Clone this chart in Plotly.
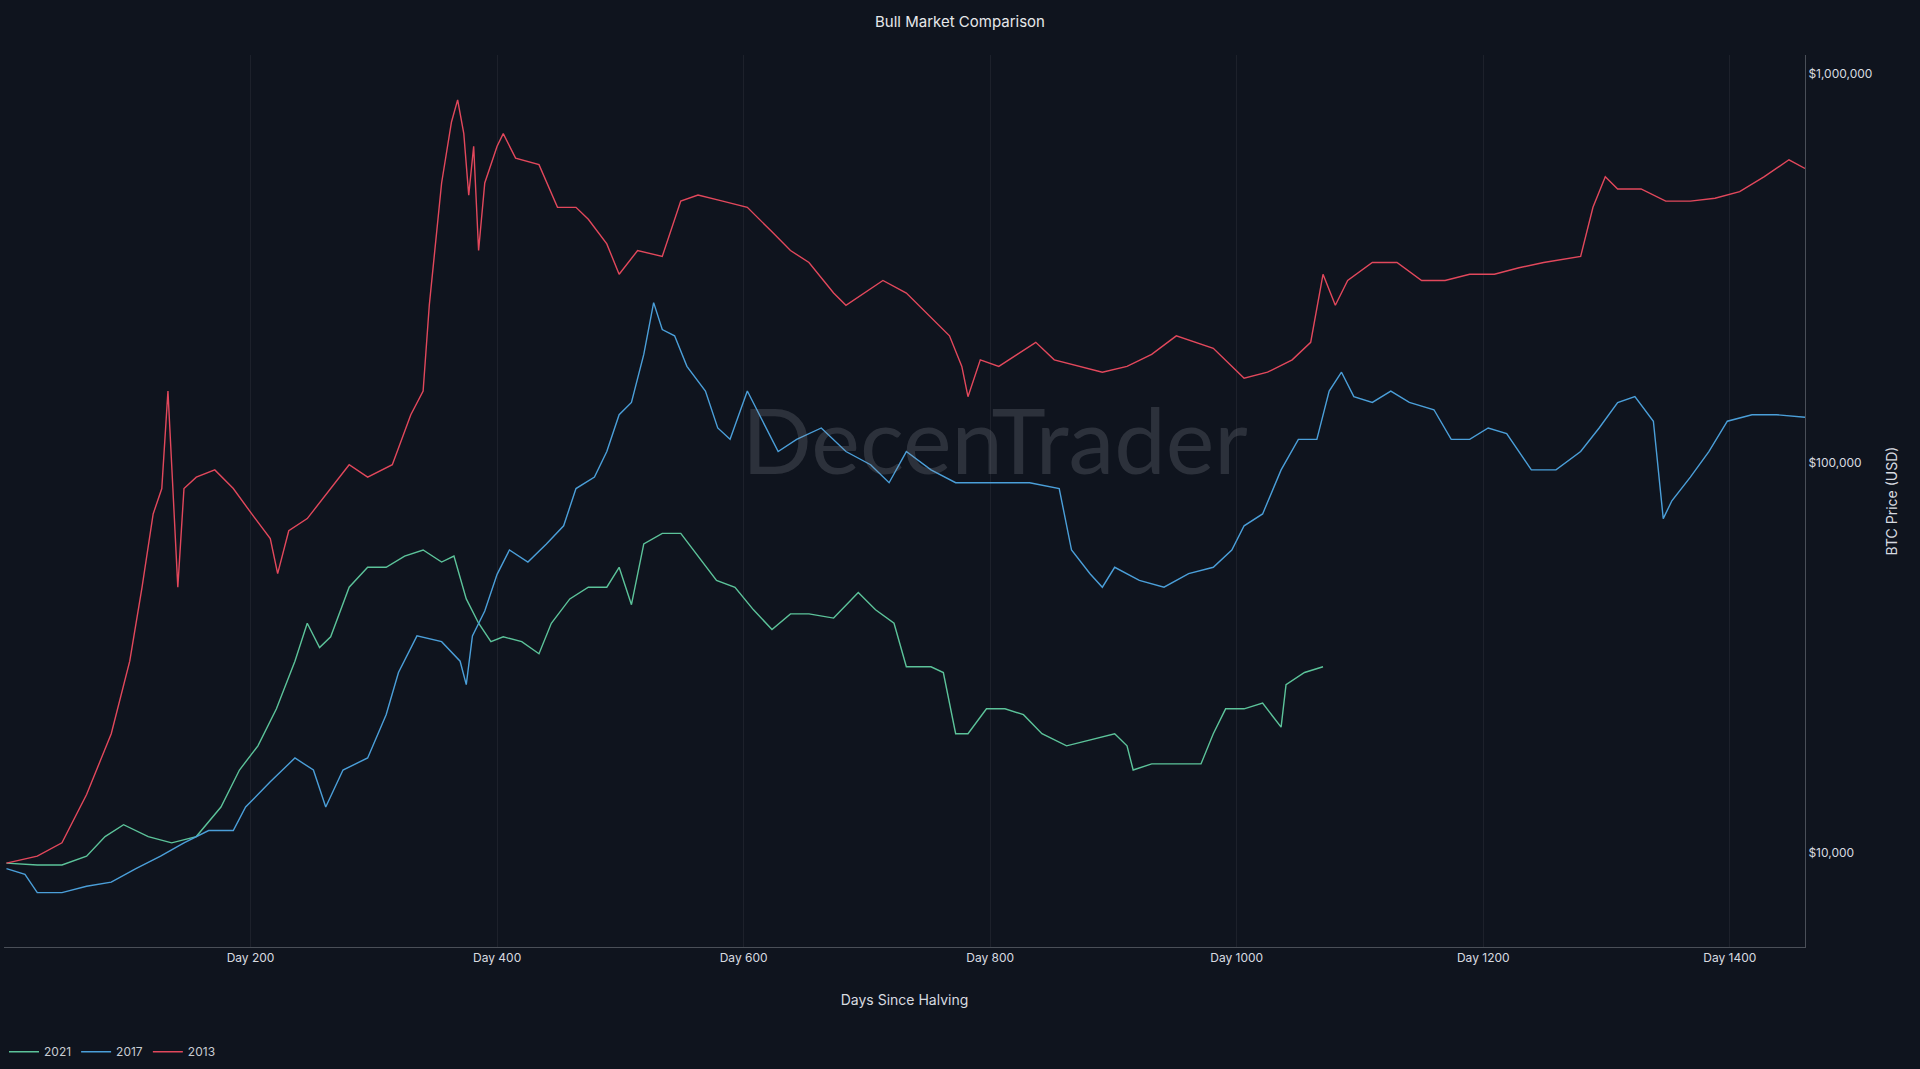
import plotly.graph_objects as go

# values
days_2013 = [2, 27, 47, 67, 87, 102, 112, 121, 128, 133, 137, 141, 146, 156, 171, 186, 201, 216, 222, 231,
             246, 265, 280, 295, 315, 330, 340, 345, 355, 363, 368, 373, 377, 381, 385, 390, 400, 405, 415, 434,
             449, 464, 474, 489, 499, 514, 534, 549, 563, 583, 603, 623, 638, 653, 673, 683, 698, 713, 732, 752,
             767, 777, 782, 792, 807, 822, 837, 852, 872, 891, 911, 931, 951, 966, 981, 996, 1006, 1025, 1045, 1060,
             1070, 1080, 1090, 1110, 1130, 1150, 1169, 1189, 1209, 1229, 1249, 1279, 1289, 1299, 1309, 1328, 1348,
             1368, 1388, 1408, 1428, 1448, 1461]
price_2013 = [9400, 9800, 10600, 14100, 20200, 31000, 48000, 74000, 86000, 153000, 86000, 48000, 86000, 92000,
              96000, 86000, 74000, 64000, 52000, 67000, 72000, 86000, 99000, 92000, 99000, 133000, 153000, 254000,
              523000, 750000, 855000, 700000, 487000, 650000, 351000, 523000, 650000, 700000, 606000, 583000,
              453000, 453000, 422000, 365000, 305000, 351000, 339000, 470000, 487000, 470000, 453000, 392000,
              351000, 327000, 273000, 254000, 273000, 294000, 273000, 237000, 212000, 177000, 148000, 184000,
              177000, 190000, 204000, 184000, 177000, 171000, 177000, 190000, 212000, 204000, 197000, 177000,
              165000, 171000, 184000, 204000, 305000, 254000, 294000, 327000, 327000, 294000, 294000, 305000,
              305000, 317000, 327000, 339000, 453000, 543000, 505000, 505000, 470000, 470000, 478000, 497000,
              543000, 600000, 570000]

days_2017 = [2, 17, 27, 47, 67, 87, 107, 127, 146, 166, 186, 196, 216, 236, 251, 261, 275, 295, 310, 320,
             335, 355, 370, 375, 380, 390, 400, 410, 425, 440, 454, 464, 479, 489, 499, 509, 519, 527, 534, 544,
             554, 569, 579, 589, 603, 613, 628, 643, 663, 683, 703, 718, 732, 752, 772, 792, 812, 832, 856, 866,
             881, 891, 901, 921, 941, 961, 981, 996, 1006, 1021, 1036, 1050, 1065, 1075, 1085, 1095, 1110, 1125,
             1140, 1160, 1174, 1189, 1204, 1219, 1239, 1259, 1279, 1294, 1309, 1323, 1338, 1346, 1353, 1368,
             1383, 1398, 1418, 1438, 1461]
price_2017 = [9100, 8800, 7900, 7900, 8200, 8400, 9100, 9800, 10600, 11400, 11400, 13100, 15200, 17500,
              16300, 13100, 16300, 17500, 22600, 29000, 36000, 34800, 31000, 27000, 36000, 41700, 51800, 59800,
              55700, 62000, 69000, 86000, 92000, 107000, 133000, 143000, 190000, 258000, 220000, 212000, 177000,
              153000, 123000, 115000, 153000, 133000, 107000, 115000, 123000, 107000, 99000, 89000, 107000, 96000,
              89000, 89000, 89000, 89000, 86000, 59800, 52000, 48000, 54000, 50000, 48000, 52000, 54000, 59800,
              69000, 74000, 96000, 115000, 115000, 153000, 171000, 148000, 143000, 153000, 143000, 137000, 115000,
              115000, 123000, 119000, 96000, 96000, 107000, 123000, 143000, 148000, 128000, 72000, 80000, 92000,
              107000, 128000, 133000, 133000, 131000]

days_2021 = [2, 27, 47, 67, 82, 97, 117, 136, 156, 176, 191, 206, 221, 236, 246, 256, 265, 280, 295, 310,
             325, 340, 355, 365, 375, 385, 395, 405, 420, 434, 444, 459, 474, 489, 499, 509, 519, 534, 549, 563,
             578, 593, 608, 623, 638, 653, 673, 693, 707, 722, 732, 752, 762, 772, 782, 797, 812, 827, 842, 862,
             881, 901, 911, 916, 931, 951, 971, 981, 991, 1006, 1021, 1036, 1040, 1055, 1070]
price_2021 = [9400, 9300, 9300, 9800, 11000, 11800, 11000, 10600, 11000, 13100, 16300, 18800, 23400, 31000,
              38800, 33600, 35800, 48000, 54000, 54000, 57700, 59800, 55700, 57700, 44800, 38800, 34800, 35800,
              34800, 32400, 38800, 44800, 48000, 48000, 54000, 43300, 62000, 66000, 66000, 57700, 50000, 48000,
              42000, 37400, 41000, 41000, 40000, 46500, 42000, 38800, 30000, 30000, 29000, 20200, 20200, 23400,
              23400, 22600, 20200, 18800, 19500, 20200, 18800, 16300, 16900, 16900, 16900, 20200, 23400, 23400,
              24200, 21000, 27000, 29000, 30000]

tick_days = [200, 400, 600, 800, 1000, 1200, 1400]
tick_labels = [f"Day {d}" for d in tick_days]
price_ticks = [10000, 100000, 1000000]
price_labels = ["$10,000", "$100,000", "$1,000,000"]

fig = go.Figure()
fig.add_trace(go.Scatter(x=days_2021, y=price_2021, name="2021", mode="lines",
                         line=dict(color="#5cc39a", width=1.4)))
fig.add_trace(go.Scatter(x=days_2017, y=price_2017, name="2017", mode="lines",
                         line=dict(color="#4b9fd9", width=1.4)))
fig.add_trace(go.Scatter(x=days_2013, y=price_2013, name="2013", mode="lines",
                         line=dict(color="#e2485c", width=1.4)))

# watermark
fig.add_annotation(text="DecenTrader", x=0.55, y=0.57, xref="paper", yref="paper", showarrow=False,
                   font=dict(size=92, color="rgba(150,155,165,0.22)", family="Lato"))

fig.update_layout(
    width=1920, height=1069,
    paper_bgcolor="#0f141e", plot_bgcolor="#0f141e",
    font=dict(family="Inter", color="#d8dbe0", size=12),
    title=dict(text="Bull Market Comparison", x=0.5, y=0.985, font=dict(size=15, color="#e6e8eb")),
    margin=dict(l=4, r=115, t=55, b=121),
    legend=dict(orientation="h", x=0, y=-0.1, xanchor="left", yanchor="top",
                font=dict(size=12, color="#c8ccd2")),
    xaxis=dict(range=[0, 1461], tickvals=tick_days, ticktext=tick_labels, showgrid=True,
               gridcolor="rgba(255,255,255,0.06)", zeroline=False, showline=True,
               linecolor="#4a4f58", title=dict(text="Days Since Halving", font=dict(size=14), standoff=30)),
    yaxis=dict(type="log", range=[3.758, 6.047], side="right", tickvals=price_ticks,
               ticktext=price_labels, showgrid=False, zeroline=False, showline=True,
               linecolor="#4a4f58", title=dict(text="BTC Price (USD)", font=dict(size=14))),
)

fig.write_html("out.html", config={"displayModeBar": False},
               post_script="document.body.style.margin='0';document.body.style.background='#0f141e';")
